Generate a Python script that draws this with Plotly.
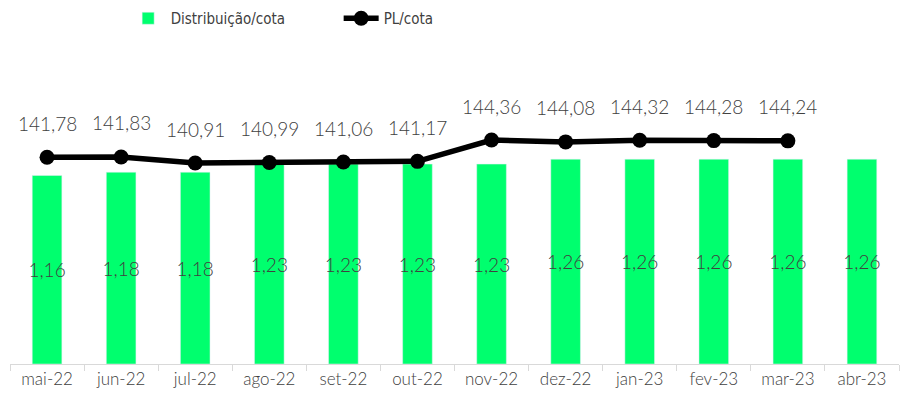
import plotly.graph_objects as go

# Data
meses = ["mai-22", "jun-22", "jul-22", "ago-22", "set-22", "out-22",
         "nov-22", "dez-22", "jan-23", "fev-23", "mar-23", "abr-23"]
distribuicao = [1.16, 1.18, 1.18, 1.23, 1.23, 1.23, 1.23, 1.26, 1.26, 1.26, 1.26, 1.26]
pl_cota = [141.78, 141.83, 140.91, 140.99, 141.06, 141.17,
           144.36, 144.08, 144.32, 144.28, 144.24]


def br(v):
    return f"{v:.2f}".replace(".", ",")


label_font = dict(family="Lato", size=19, color="#404040", weight=300)

fig = go.Figure()

fig.add_trace(go.Bar(
    x=meses,
    y=distribuicao,
    name="Distribuição/cota",
    marker_color="#00FF6E",
    width=0.4,
    text=[br(v) for v in distribuicao],
    textposition="inside",
    insidetextanchor="middle",
    textangle=0,
    textfont=label_font,
))

fig.add_trace(go.Scatter(
    x=meses[:len(pl_cota)],
    y=pl_cota,
    name="PL/cota",
    mode="lines+markers",
    line=dict(color="black", width=5.5),
    marker=dict(color="black", size=15),
    yaxis="y2",
))

# labels above line points
for m, v in zip(meses, pl_cota):
    fig.add_annotation(
        x=m, y=v, yref="y2", text=br(v), showarrow=False,
        yshift=34, font=label_font,
    )

fig.update_layout(
    width=904,
    height=401,
    plot_bgcolor="white",
    paper_bgcolor="white",
    margin=dict(l=10, r=5, t=30, b=37, autoexpand=False),
    uniformtext=dict(minsize=19, mode="show"),
    showlegend=True,
    legend=dict(
        orientation="h",
        xref="container", yref="container",
        x=0.139, xanchor="left",
        y=0.995, yanchor="top",
        font=dict(family="DejaVu Sans Condensed", size=15, color="#404040"),
        entrywidth=163,
        itemwidth=35,
        bgcolor="rgba(0,0,0,0)",
    ),
    xaxis=dict(
        range=[-0.5, len(meses) - 0.5],
        showgrid=False,
        showline=True,
        linecolor="#d9d9d9",
        ticks="outside",
        tickson="boundaries",
        ticklen=6,
        tickcolor="#d9d9d9",
        tickfont=dict(family="Lato", size=17, color="#404040", weight=300),
        automargin=False,
    ),
    yaxis=dict(
        range=[0, 2.055],
        showgrid=False,
        showticklabels=False,
        zeroline=False,
        automargin=False,
    ),
    yaxis2=dict(
        range=[110.8, 160.85],
        overlaying="y",
        side="right",
        showgrid=False,
        showticklabels=False,
        zeroline=False,
        automargin=False,
    ),
)

fig.write_html("out.html", config={"displayModeBar": False},
               post_script="document.body.style.margin='0';")
